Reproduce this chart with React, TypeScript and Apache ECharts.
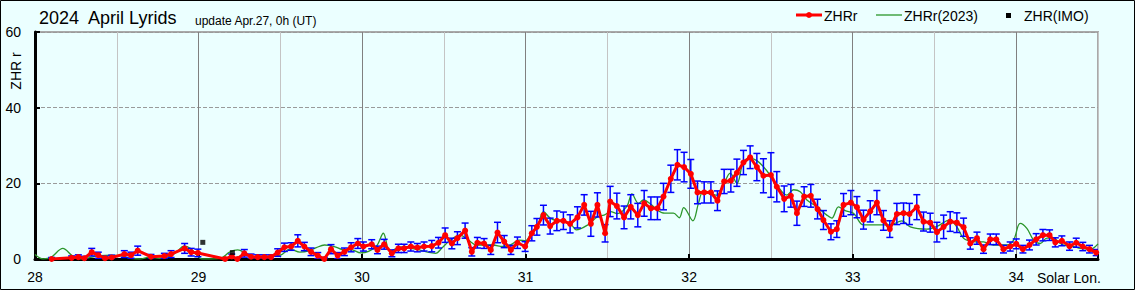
import React, { useEffect, useRef } from 'react';
import * as echarts from 'echarts';

const FONT = '"Liberation Sans", Arial, sans-serif';

// ZHRr 2024 (hourly), solar longitude, ZHR, error
const redLon = [
  28.102, 28.224, 28.265, 28.302, 28.347, 28.387, 28.428, 28.469, 28.546, 28.587, 28.628, 28.709, 28.791, 28.832, 28.915, 28.955, 28.996,
  29.162, 29.203, 29.237, 29.280, 29.321, 29.362, 29.402, 29.443, 29.484, 29.525, 29.566, 29.607, 29.647, 29.688, 29.729, 29.769, 29.810, 29.851, 29.892, 29.933, 29.974, 30.008,
  30.059, 30.094, 30.135, 30.182, 30.222, 30.257, 30.298, 30.338, 30.379, 30.426, 30.467, 30.508, 30.549, 30.583, 30.630, 30.671, 30.705, 30.746, 30.787, 30.828, 30.869, 30.910, 30.950, 30.997,
  31.038, 31.069, 31.109, 31.150, 31.191, 31.231, 31.272, 31.317, 31.358, 31.399, 31.439, 31.486, 31.517, 31.558, 31.602, 31.643, 31.686, 31.725, 31.766, 31.806, 31.843, 31.888, 31.928, 31.969,
  32.010, 32.051, 32.092, 32.133, 32.173, 32.214, 32.255, 32.292, 32.332, 32.373, 32.414, 32.454, 32.500, 32.536, 32.581, 32.622, 32.659, 32.703, 32.744, 32.785, 32.821, 32.867, 32.903, 32.944, 32.989,
  33.026, 33.066, 33.107, 33.148, 33.188, 33.227, 33.270, 33.311, 33.347, 33.392, 33.433, 33.474, 33.515, 33.556, 33.596, 33.637, 33.678, 33.719, 33.760, 33.800, 33.841, 33.878, 33.922, 33.963,
  34.000, 34.041, 34.081, 34.122, 34.163, 34.204, 34.239, 34.279, 34.326, 34.367, 34.407, 34.448, 34.489,
];
const redZhr = [
  0.0, 0.3, 0.5, 0.2, 1.8, 1.0, 0.2, 0.4, 1.3, 1.0, 2.2, 0.6, 0.8, 1.3, 2.8, 1.8, 1.6,
  0.0, 0.7, 0.0, 1.5, 0.6, 0.5, 0.5, 0.5, 1.7, 3.1, 3.3, 4.8, 3.3, 1.9, 0.9, 0.0, 2.6, 0.9, 1.9, 3.1, 4.1, 3.3,
  3.9, 2.4, 3.9, 1.5, 2.8, 2.8, 3.3, 3.0, 3.3, 3.4, 4.3, 6.3, 4.1, 5.5, 7.5, 1.9, 4.3, 4.1, 2.4, 7.0, 4.6, 2.4, 4.3, 3.3,
  6.8, 8.5, 11.6, 8.7, 10.1, 10.1, 9.3, 11.0, 14.3, 9.3, 14.3, 6.8, 15.2, 14.0, 11.0, 13.8, 11.6, 14.7, 13.4, 13.4, 16.5, 21.2, 24.9, 24.3,
  22.5, 17.6, 17.6, 17.6, 15.4, 20.5, 20.7, 22.8, 25.5, 26.9, 24.3, 22.0, 22.2, 19.1, 15.9, 16.7, 12.1, 16.5, 16.7, 13.2, 10.3, 7.2, 7.9, 14.3, 14.9,
  13.7, 10.4, 12.6, 14.9, 10.2, 7.9, 11.9, 12.1, 11.9, 13.7, 9.9, 9.6, 7.1, 8.5, 9.9, 9.6, 8.4, 4.1, 5.5, 2.6, 5.2, 5.2, 2.6, 3.3,
  4.0, 2.6, 3.7, 5.2, 6.3, 6.3, 4.4, 4.8, 3.4, 4.3, 3.3, 2.6, 1.7,
];
const redErr = [
  0.4, 0.5, 0.6, 0.5, 1.0, 0.8, 0.5, 0.6, 0.9, 0.8, 1.2, 0.6, 0.7, 0.9, 1.3, 1.0, 1.0,
  0.3, 0.6, 0.3, 1.0, 0.7, 0.6, 0.6, 0.6, 1.0, 1.1, 1.0, 1.6, 1.1, 1.0, 0.8, 0.4, 1.2, 0.8, 1.0, 1.2, 1.3, 1.2,
  1.2, 1.0, 1.3, 0.9, 1.1, 1.1, 1.2, 1.1, 1.2, 1.5, 1.4, 1.9, 1.4, 1.7, 2.0, 1.1, 1.4, 1.3, 1.2, 2.7, 1.6, 1.2, 1.5, 1.3,
  2.0, 2.2, 2.6, 2.1, 2.6, 2.3, 2.4, 2.8, 2.7, 3.3, 3.2, 2.3, 4.0, 3.4, 3.0, 3.2, 3.1, 3.4, 3.0, 3.0, 3.5, 3.6, 4.0, 3.9,
  3.8, 3.0, 2.8, 2.8, 2.6, 3.2, 3.0, 3.6, 3.2, 3.0, 3.6, 4.5, 5.9, 4.0, 3.4, 3.0, 3.2, 2.6, 3.0, 2.6, 2.5, 2.1, 2.2, 3.0, 3.2,
  2.8, 2.5, 2.8, 3.2, 2.6, 2.2, 2.8, 2.7, 2.8, 3.3, 2.5, 2.5, 2.6, 3.1, 2.6, 2.6, 2.4, 1.5, 1.6, 1.1, 1.4, 1.4, 1.0, 1.2,
  1.3, 1.0, 1.3, 1.5, 1.5, 1.4, 1.2, 1.3, 1.1, 1.2, 1.1, 1.0, 0.8,
];

// ZHRr 2023 (green curve)
const greenLon = [
  28.000, 28.050, 28.100, 28.170, 28.230, 28.280, 28.350, 28.400, 28.460, 28.520, 28.580, 28.640, 28.700, 28.760, 28.820, 28.870, 28.910, 28.950, 28.990,
  29.020, 29.080, 29.140, 29.190, 29.240, 29.290, 29.340, 29.400, 29.450, 29.500, 29.560, 29.620, 29.680, 29.720, 29.770, 29.830, 29.880, 29.940, 29.990,
  30.040, 30.090, 30.130, 30.170, 30.210, 30.260, 30.300, 30.350, 30.400, 30.450, 30.490, 30.540, 30.600, 30.650, 30.700, 30.750, 30.800, 30.860, 30.910, 30.960,
  31.000, 31.030, 31.070, 31.110, 31.150, 31.200, 31.230, 31.280, 31.310, 31.380, 31.440, 31.480, 31.520, 31.560, 31.620, 31.650, 31.690, 31.720, 31.770, 31.803, 31.850, 31.904, 31.940, 31.967,
  32.023, 32.057, 32.087, 32.169, 32.210, 32.251, 32.292, 32.332, 32.373, 32.414, 32.454, 32.495, 32.536, 32.597, 32.638, 32.679, 32.720, 32.781, 32.842, 32.873, 32.913, 32.954,
  33.005, 33.066, 33.148, 33.229, 33.301, 33.352, 33.454, 33.515, 33.592, 33.637, 33.678, 33.739, 33.800, 33.861, 33.943, 33.984,
  34.024, 34.065, 34.106, 34.147, 34.188, 34.229, 34.269, 34.310, 34.351, 34.391, 34.453, 34.500,
];
const greenZhr = [
  1.2, 0.0, 0.5, 2.8, 0.8, 0.0, 0.5, 0.9, 1.0, 0.9, 0.2, 0.0, 0.5, 0.2, 0.6, 2.0, 3.4, 2.8, 1.0,
  0.0, 0.0, 0.3, 1.8, 2.4, 1.5, 0.6, 0.6, 0.8, 1.0, 2.6, 1.8, 2.2, 3.0, 3.7, 3.3, 2.5, 2.4, 1.6,
  2.0, 3.5, 6.8, 2.0, 2.8, 3.3, 2.8, 2.4, 1.8, 1.5, 3.0, 5.0, 6.3, 5.0, 3.7, 3.7, 3.7, 3.3, 3.8, 5.0,
  4.8, 6.5, 8.5, 12.5, 10.8, 10.0, 9.9, 9.0, 7.7, 9.0, 11.2, 11.6, 12.5, 12.0, 14.0, 17.2, 14.7, 15.6, 14.3, 13.0, 12.1, 12.1, 10.9, 13.6,
  10.1, 14.7, 17.8, 16.9, 19.6, 22.7, 20.0, 25.7, 26.6, 26.0, 24.4, 22.2, 19.6, 16.9, 18.3, 17.8, 15.6, 13.8, 11.6, 10.8, 13.8, 12.8,
  12.1, 9.0, 9.0, 9.0, 10.1, 8.5, 7.9, 8.6, 10.3, 8.5, 5.5, 4.6, 4.5, 3.7, 3.7, 5.0,
  9.4, 8.1, 5.0, 4.1, 5.5, 5.5, 4.1, 3.5, 3.3, 2.8, 2.6, 4.0,
];

// ZHR (IMO)
const imoLon = [29.026, 29.207];
const imoZhr = [4.4, 1.7];

const xMin = 28;
const xMax = 34.5;
const yMax = 60;

export default function App() {
  const ref = useRef<HTMLDivElement>(null);
  useEffect(() => {
    const chart = echarts.init(ref.current as HTMLDivElement, null, { renderer: 'svg' });
    const redData = redLon.map((x, i) => [x, redZhr[i]]);
    const errData = redLon.map((x, i) => [x, Math.max(0, redZhr[i] - redErr[i]), redZhr[i] + redErr[i]]);
    const greenData = greenLon.map((x, i) => [x, greenZhr[i]]);
    const imoData = imoLon.map((x, i) => [x, imoZhr[i]]);

    const option: any = {
      animation: false,
      backgroundColor: '#ebffff',
      textStyle: { fontFamily: FONT },
      grid: {
        left: 35, top: 32, right: 37, bottom: 31,
        show: true, borderColor: '#a9a9a9', borderWidth: 2, backgroundColor: 'transparent',
      },
      xAxis: [
        {
          type: 'value', min: xMin, max: xMax, interval: 0.5, position: 'bottom',
          axisLine: { show: true, onZero: false, lineStyle: { color: '#000', width: 3 } },
          axisTick: { show: false },
          axisLabel: {
            fontSize: 14, color: '#000', fontFamily: FONT, margin: 11, showMaxLabel: false,
            formatter: (v: number) => (Number.isInteger(v) ? String(v) : ''),
          },
          splitLine: { show: true, lineStyle: { color: ['#808080', '#c4c4c4'], width: 1 } },
        },
        {
          type: 'value', min: xMin, max: xMax, interval: 1, position: 'bottom',
          axisLine: { show: false },
          axisTick: { show: true, inside: true, length: 5, lineStyle: { color: '#000', width: 2 } },
          axisLabel: { show: false },
          splitLine: { show: false },
        },
      ],
      yAxis: {
        type: 'value', min: 0, max: yMax, interval: 20,
        axisLine: { show: true, lineStyle: { color: '#000', width: 3 } },
        axisTick: { show: true, inside: true, length: 5, lineStyle: { color: '#000', width: 2 } },
        axisLabel: { fontSize: 14, color: '#000', fontFamily: FONT, margin: 14 },
        splitLine: { show: true, lineStyle: { color: '#9a9a9a', type: 'dashed', width: 1 } },
      },
      series: [
        {
          name: 'ZHRr(2023)', type: 'line', data: greenData, smooth: 0.35, showSymbol: false,
          lineStyle: { color: '#2b962b', width: 1.3 }, itemStyle: { color: '#2b962b' }, z: 2, silent: true,
        },
        {
          name: 'err', type: 'custom', data: errData, z: 3, clip: true, encode: { x: 0, y: [1, 2] },
          renderItem: (params: any, api: any) => {
            const x = api.value(0);
            const lo = api.coord([x, api.value(1)]);
            const hi = api.coord([x, api.value(2)]);
            const hw = 3.5;
            const st = { stroke: '#0000ff', lineWidth: 1.5 };
            return {
              type: 'group',
              children: [
                { type: 'line', shape: { x1: lo[0], y1: lo[1], x2: hi[0], y2: hi[1] }, style: st },
                { type: 'line', shape: { x1: hi[0] - hw, y1: hi[1], x2: hi[0] + hw, y2: hi[1] }, style: st },
                { type: 'line', shape: { x1: lo[0] - hw, y1: lo[1], x2: lo[0] + hw, y2: lo[1] }, style: st },
              ],
            };
          },
        },
        {
          name: 'ZHRr', type: 'line', data: redData, symbol: 'circle', symbolSize: 6, showSymbol: true,
          itemStyle: { color: '#ff0000' }, lineStyle: { color: '#ff0000', width: 3 }, z: 4,
        },
        {
          name: 'ZHR(IMO)', type: 'scatter', data: imoData, symbol: 'rect', symbolSize: 5,
          itemStyle: { color: '#000' }, z: 5,
        },
      ],
      graphic: [
        { type: 'text', x: 39, y: 27, style: { text: '2024  April Lyrids', font: `18px ${FONT}`, fill: '#000', verticalAlign: 'bottom' } },
        { type: 'text', x: 195, y: 27, style: { text: 'update Apr.27, 0h (UT)', font: `12px ${FONT}`, fill: '#000', verticalAlign: 'bottom' } },
        { type: 'line', shape: { x1: 796, y1: 15, x2: 822, y2: 15 }, style: { stroke: '#ff0000', lineWidth: 3 } },
        { type: 'circle', shape: { cx: 809, cy: 15, r: 3 }, style: { fill: '#ff0000' } },
        { type: 'text', x: 824, y: 16, style: { text: 'ZHRr', font: `14px ${FONT}`, fill: '#000', verticalAlign: 'middle' } },
        { type: 'line', shape: { x1: 876, y1: 15, x2: 902, y2: 15 }, style: { stroke: '#2b962b', lineWidth: 1.3 } },
        { type: 'text', x: 904, y: 16, style: { text: 'ZHRr(2023)', font: `14px ${FONT}`, fill: '#000', verticalAlign: 'middle' } },
        { type: 'rect', shape: { x: 1006, y: 13, width: 5, height: 5 }, style: { fill: '#000' } },
        { type: 'text', x: 1024, y: 16, style: { text: 'ZHR(IMO)', font: `14px ${FONT}`, fill: '#000', verticalAlign: 'middle' } },
        { type: 'text', x: 16, y: 71, rotation: Math.PI / 2, style: { text: 'ZHR r', font: `14px ${FONT}`, fill: '#000', align: 'center', verticalAlign: 'middle' } },
        { type: 'text', x: 1037, y: 278, style: { text: 'Solar Lon.', font: `14px ${FONT}`, fill: '#000', verticalAlign: 'middle' } },
        { type: 'rect', shape: { x: 0.5, y: 0.5, width: 1134, height: 289 }, style: { fill: 'none', stroke: '#000', lineWidth: 1 }, z: 100, silent: true },
      ],
    };
    chart.setOption(option);
    return () => chart.dispose();
  }, []);
  return <div ref={ref} style={{ position: 'fixed', left: 0, top: 0, width: 1135, height: 290 }} />;
}
